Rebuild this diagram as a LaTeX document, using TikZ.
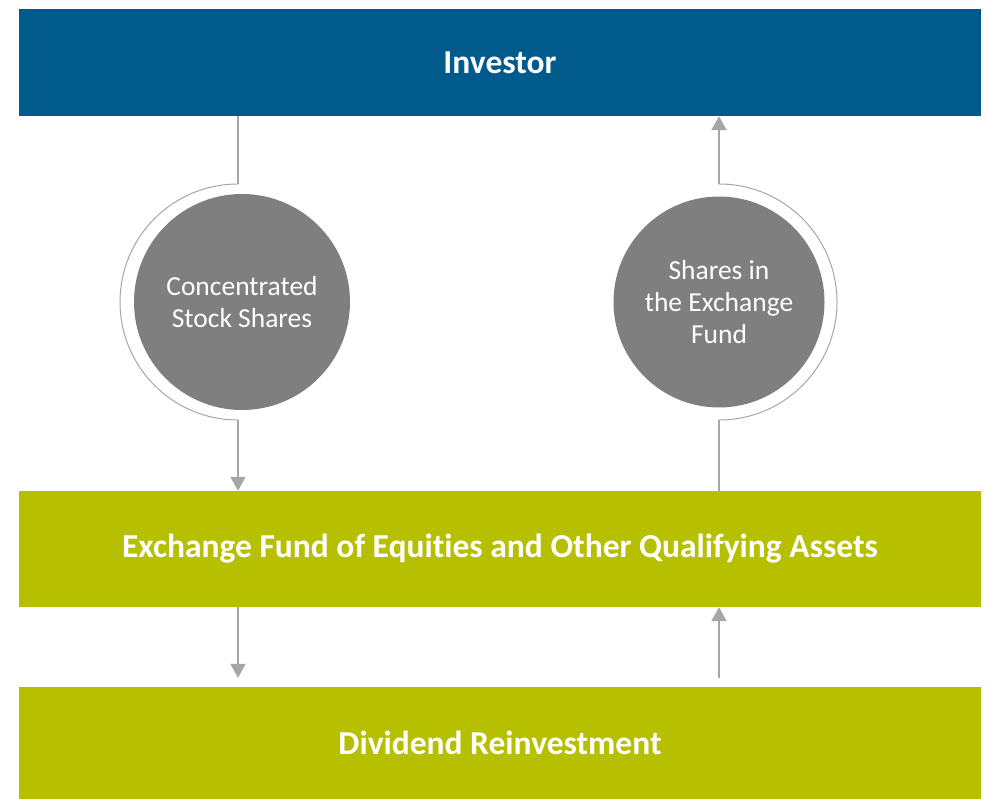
\documentclass[tikz,border=0pt]{standalone}
\usepackage{fontspec}
\setmainfont{Carlito}[Ligatures=NoCommon]
\usetikzlibrary{arrows.meta}
\definecolor{barblue}{HTML}{005A8C}
\definecolor{bargreen}{HTML}{B6BF00}
\definecolor{circgray}{HTML}{7F7F7F}
\definecolor{linegray}{HTML}{A6A6A6}
\tikzset{
  bar/.style={fill=#1, draw=none, minimum width=962pt, inner sep=0pt, text=white, font=\fontsize{33.5}{38}\selectfont\bfseries},
  bubble/.style={circle, fill=circgray, draw=none, inner sep=0pt, text=white, align=center, font=\fontsize{27.5}{32}\selectfont},
  conn/.style={draw=linegray, line width=2pt},
  ring/.style={draw=linegray, line width=1pt},
  tip/.style={-{Triangle[length=14pt,width=15pt]}}
}
\begin{document}
\begin{tikzpicture}[x=1pt,y=-1pt]
\useasboundingbox (0,0) rectangle (987,799);
\node[bar=barblue, minimum height=107pt] (inv) at (500,62.5) {Investor};
\node[bar=bargreen, minimum height=116pt] (fund) at (500,549) {Exchange Fund of Equities and Other Qualifying Assets};
\node[bar=bargreen, minimum height=112pt] (div) at (500,743) {Dividend Reinvestment};
\node[bubble, minimum size=216pt] (c1) at (242,302) {Concentrated\\Stock Shares};
\node[bubble, minimum size=211pt] (c2) at (719,302) {Shares in\\the Exchange\\Fund};
% left path
\coordinate (l1) at (238,184);
\coordinate (l2) at (238,420);
\draw[conn] (inv.south -| l1) -- (l1);
\draw[ring] (l1) arc[start angle=-90, end angle=-270, radius=118];
\draw[conn, tip] (l2) -- (fund.north -| l2);
% right path
\coordinate (r1) at (719,184);
\coordinate (r2) at (719,420);
\draw[conn] (fund.north -| r2) -- (r2);
\draw[ring] (r2) arc[start angle=90, end angle=-90, radius=118];
\draw[conn, tip] (r1) -- (inv.south -| r1);
% lower arrows
\coordinate (a1) at (238,0);
\coordinate (a2) at (719,0);
\draw[conn, tip] (fund.south -| a1) -- ([yshift=9pt]div.north -| a1);
\draw[conn, tip] ([yshift=9pt]div.north -| a2) -- (fund.south -| a2);
\end{tikzpicture}
\end{document}
